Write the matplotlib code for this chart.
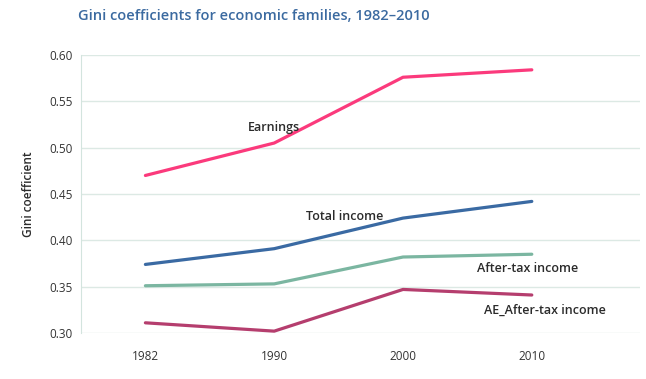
import matplotlib
matplotlib.use("Agg")
import matplotlib.pyplot as plt

years = ["1982", "1990", "2000", "2010"]
earnings = [0.470, 0.505, 0.576, 0.584]
total_income = [0.374, 0.391, 0.424, 0.442]
after_tax = [0.351, 0.353, 0.382, 0.385]
ae_after_tax = [0.311, 0.302, 0.347, 0.341]
yticks = [0.30, 0.35, 0.40, 0.45, 0.50, 0.55, 0.60]

plt.rcParams['font.family'] = ['Open Sans', 'DejaVu Sans']

fig = plt.figure(figsize=(6.46, 3.79), dpi=100)
ax = fig.add_axes([81/646, 1 - 333/379, 559/646, 278/379])

x = range(len(years))
series = [
    (earnings, "#fb3a7c", "Earnings", (1.0, 0.522)),
    (total_income, "#3a6aa3", "Total income", (1.55, 0.426)),
    (after_tax, "#7bb6a1", "After-tax income", (2.97, 0.370)),
    (ae_after_tax, "#b53e6e", "AE_After-tax income", (3.1, 0.325)),
]
for vals, col, name, pos in series:
    ax.plot(x, vals, color=col, lw=2.3, solid_capstyle="round", clip_on=False)
    ax.text(pos[0], pos[1], name, fontsize=9, fontweight="semibold",
            color="#2b2b2b", ha="center", va="center")

ax.set_xlim(-0.5, 3.84)
ax.set_ylim(0.30, 0.60)
ax.set_xticks(list(x))
ax.set_xticklabels(years)
ax.set_yticks(yticks)
ax.set_yticklabels([f"{v:.2f}" for v in yticks])
ax.grid(axis="y", color="#dce9e4", lw=1)
ax.set_axisbelow(True)
for s in ["top", "right", "bottom"]:
    ax.spines[s].set_visible(False)
ax.spines["left"].set_color("#d3e4de")
ax.tick_params(length=0, labelsize=8.5, colors="#333333")
ax.tick_params(axis="x", pad=12)
ax.tick_params(axis="y", pad=6)
ax.set_ylabel("Gini coefficient", fontsize=8.5, fontweight="semibold",
              color="#2b2b2b", labelpad=10)

fig.text(78/646, 1 - 16/379, "Gini coefficients for economic families, 1982\u20132010",
         fontsize=10.5, fontweight="semibold", color="#3b6aa0", ha="left", va="center")

fig.savefig("out.png", dpi=100)
